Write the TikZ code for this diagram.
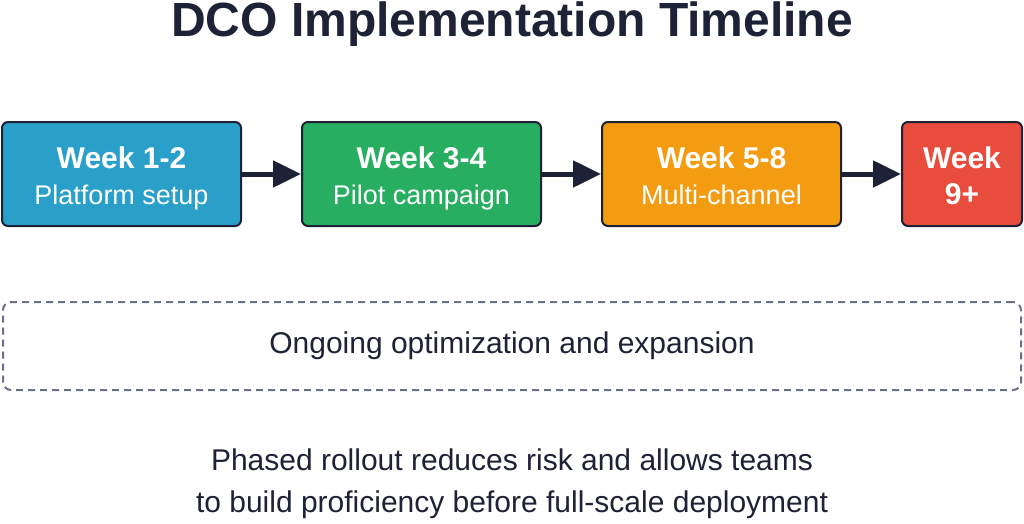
\documentclass[tikz,border=0pt]{standalone}
\usepackage{fontspec}
\setmainfont{Liberation Sans}
\usetikzlibrary{arrows.meta}
\definecolor{ink}{HTML}{1E2236}
\definecolor{cb}{HTML}{2A9FC9}
\definecolor{cg}{HTML}{27AE60}
\definecolor{co}{HTML}{F39C12}
\definecolor{cr}{HTML}{E74C3C}
\definecolor{dash}{HTML}{6B7089}
\begin{document}
\begin{tikzpicture}[x=1pt,y=-1pt,
 box/.style={draw=ink,line width=2pt,rounded corners=6pt,minimum height=104pt},
 lab/.style={text=white,align=center,font=\fontsize{27}{37}\selectfont,anchor=base},
 wk/.style={lab,font=\bfseries\fontsize{30}{37}\selectfont},
 arr/.style={draw=ink,line width=5pt,-{Triangle[length=28pt,width=26pt]}}]
\useasboundingbox (0,0) rectangle (1024,524);
\node[font=\bfseries\fontsize{48}{56}\selectfont,text=ink,anchor=base] (t) at (512,37) {DCO Implementation Timeline};
\node[box,fill=cb,minimum width=239pt] (b1) at (121.5,174) {};
\node[box,fill=cg,minimum width=239pt] (b2) at (421.5,174) {};
\node[box,fill=co,minimum width=239pt] (b3) at (721.5,174) {};
\node[box,fill=cr,minimum width=120pt] (b4) at (962,174) {};
\node[wk] (w1) at (121.5,168) {Week 1-2};
\node[lab] (s1) at (121.5,204) {Platform setup};
\node[wk] (w2) at (421.5,168) {Week 3-4};
\node[lab] (s2) at (421.5,204) {Pilot campaign};
\node[wk] (w3) at (721.5,168) {Week 5-8};
\node[lab] (s3) at (721.5,204) {Multi-channel};
\node[wk] (w4) at (962,168) {Week};
\node[wk] (s4) at (962,204) {9+};
\draw[arr] (b1) -- (b2);
\draw[arr] (b2) -- (b3);
\draw[arr] (b3) -- (b4);
\node[draw=dash,line width=2pt,dash pattern=on 7pt off 5pt,rounded corners=8pt,minimum width=1018pt,minimum height=88pt,text=ink,font=\fontsize{30}{36}\selectfont] (d) at (512,346) {Ongoing optimization and expansion};
\node[text=ink,align=center,font=\fontsize{30}{42}\selectfont] (n) at (512,484) {Phased rollout reduces risk and allows teams\\to build proficiency before full-scale deployment};
\end{tikzpicture}
\end{document}
